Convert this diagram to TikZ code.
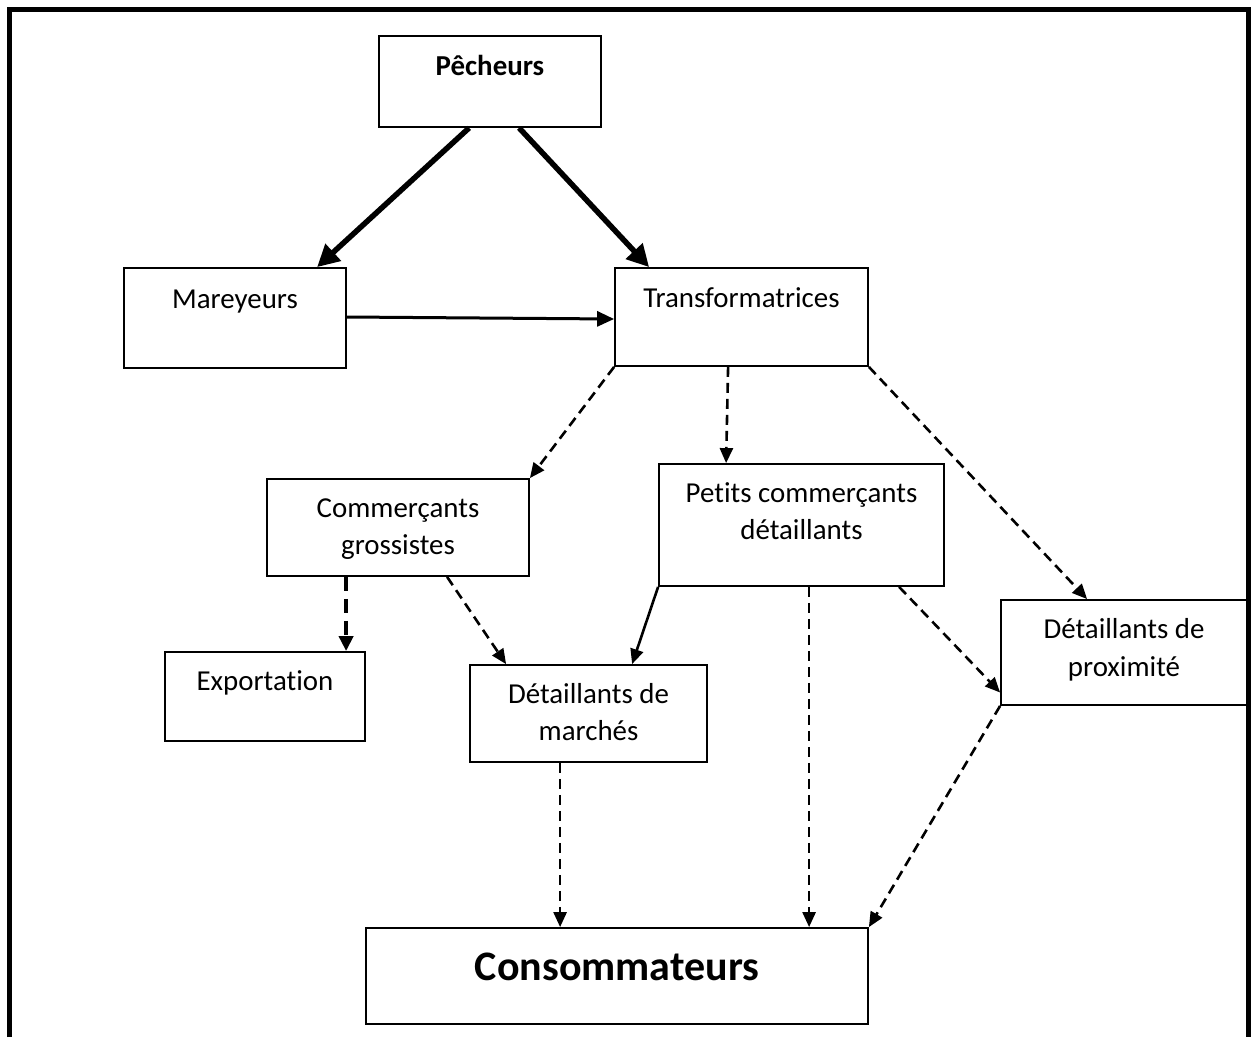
\documentclass[tikz,border=0pt]{standalone}
\usepackage{fontspec}
\setmainfont[Ligatures=NoCommon]{Carlito}
\usetikzlibrary{arrows.meta}
\begin{document}
\begin{tikzpicture}[x=1pt,y=-1pt,
  box/.style={draw, line width=1.8pt, inner sep=0pt, rectangle},
  lbl/.style={anchor=base, inner sep=0pt, font=\fontsize{28.9}{37}\selectfont},
  biglbl/.style={anchor=base, inner sep=0pt, font=\fontsize{42}{50}\selectfont\bfseries},
  heavyarrow/.style={line width=5.5pt, -{Triangle[length=22pt,width=22pt]}},
  mediumarrow/.style={line width=3pt, -{Triangle[length=17pt,width=15pt]}},
  thinarrow/.style={line width=2.6pt, -{Triangle[length=15pt,width=13pt]}},
  dasharrow/.style={line width=2.6pt, dash pattern=on 10pt off 6pt, -{Triangle[length=15pt,width=13pt]}},
  thickdasharrow/.style={line width=4pt, dash pattern=on 14pt off 8pt, -{Triangle[length=15pt,width=14pt]}}]
\useasboundingbox (0,0) rectangle (1251,1037);

% outer frame (open at the bottom)
\draw[line width=5pt] (9,1037) -- (9,9) -- (1248.5,9) -- (1248.5,1037);

% boxes: (left+right)/2, (top+bottom)/2
\node[box, minimum width=222, minimum height=91] (pech) at (490,81.5) {};
\node[box, minimum width=222, minimum height=100] (mar) at (235,318) {};
\node[box, minimum width=253, minimum height=98] (trans) at (741.5,317) {};
\node[box, minimum width=262, minimum height=97] (gros) at (398,527.5) {};
\node[box, minimum width=285, minimum height=122] (pet) at (801.5,525) {};
\node[box, minimum width=200, minimum height=89] (exp) at (265,696.5) {};
\node[box, minimum width=237, minimum height=97] (march) at (588.5,713.5) {};
\node[box, minimum width=246, minimum height=105] (prox) at (1124,652.5) {};
\node[box, minimum width=502, minimum height=96] (cons) at (617,976) {};

% texts
\node[lbl] (t-pech) at (490,75) {\bfseries Pêcheurs};
\node[lbl] (t-mar) at (235,308) {Mareyeurs};
\node[lbl] (t-trans) at (741.5,307) {Transformatrices};
\node[lbl] (t-gros1) at (398,517) {Commerçants};
\node[lbl] (t-gros2) at (398,554) {grossistes};
\node[lbl] (t-pet1) at (801.5,502) {Petits commerçants};
\node[lbl] (t-pet2) at (801.5,539) {détaillants};
\node[lbl] (t-exp) at (265,690) {Exportation};
\node[lbl] (t-march1) at (588.5,703) {Détaillants de};
\node[lbl] (t-march2) at (588.5,740) {marchés};
\node[lbl] (t-prox1) at (1124,638) {Détaillants de};
\node[lbl] (t-prox2) at (1124,676) {proximité};
\node[biglbl] (t-cons) at (617,980) {Consommateurs};

% fishermen to wholesalers / processors
\draw[heavyarrow] ([xshift=91]pech.south west) -- ([xshift=194]mar.north west);
\draw[heavyarrow] ([xshift=141]pech.south west) -- ([xshift=35]trans.north west);
\draw[mediumarrow] ([yshift=1]mar.east) -- ([yshift=-2]trans.west);

% from the processors
\draw[dasharrow] (trans.south west) -- (gros.north east);
\draw[dasharrow] ([xshift=114]trans.south west) -- ([xshift=68]pet.north west);
\draw[dasharrow] (trans.south east) -- ([xshift=87]prox.north west);

% from the wholesale traders
\draw[thickdasharrow] ([xshift=80]gros.south west) -- ([xshift=182]exp.north west);
\draw[dasharrow] ([xshift=181]gros.south west) -- ([xshift=37]march.north west);

% from the small retailers
\draw[thinarrow] (pet.south west) -- ([xshift=163]march.north west);
\draw[dasharrow] ([xshift=151]pet.south west) -- ([xshift=444]cons.north west);
\draw[dasharrow] ([xshift=241]pet.south west) -- ([yshift=-40]prox.west);

% to the consumers
\draw[dasharrow] ([xshift=91]march.south west) -- ([xshift=195]cons.north west);
\draw[dasharrow] (prox.south west) -- (cons.north east);
\end{tikzpicture}
\end{document}
